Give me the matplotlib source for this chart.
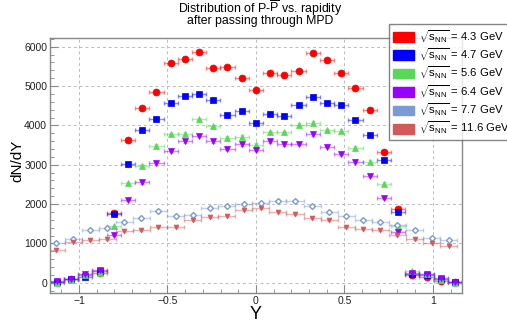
import matplotlib
matplotlib.use("Agg")
import matplotlib.pyplot as plt
import matplotlib.patches as mpatches
from matplotlib.ticker import MultipleLocator, FuncFormatter
import numpy as np

plt.rcParams['font.family'] = ['Liberation Sans', 'DejaVu Sans']
plt.rcParams['mathtext.fontset'] = 'custom'
plt.rcParams['mathtext.rm'] = 'Liberation Sans'
plt.rcParams['mathtext.it'] = 'Liberation Sans:italic'

# bin centres (two different binnings)
y_a = np.linspace(-1.125, 1.125, 29)
y_b = np.linspace(-1.13, 1.0895, 24)

n_43 = [20, 90, 190, 250, 1770, 3620, 4430, 4850, 5590, 5690, 5860, 5470, 5490, 5200, 4900,
        5320, 5290, 5390, 5830, 5660, 5340, 4940, 4400, 3320, 1870, 205, 140, 50, 10]
n_47 = [30, 100, 150, 310, 1750, 3010, 3880, 4160, 4580, 4740, 4810, 4640, 4260, 4370, 4070,
        4300, 4240, 4530, 4720, 4570, 4510, 4130, 3755, 3120, 1790, 230, 200, 100, 20]
n_56 = [0, 65, 200, 240, 1430, 2540, 2975, 3480, 3770, 3790, 4160, 3980, 3690, 3710, 3510,
        3820, 3820, 4010, 4070, 3880, 3860, 3430, 3080, 2520, 1440, 290, 210, 80, 0]
n_64 = [40, 100, 225, 320, 1205, 2100, 2550, 3036, 3350, 3595, 3730, 3595, 3410, 3520, 3385,
        3600, 3520, 3535, 3770, 3450, 3270, 3080, 2710, 2160, 1300, 240, 230, 110, 30]
n_77 = [1017, 1119, 1340, 1391, 1551, 1645, 1823, 1704, 1729, 1907, 1942, 2001, 2025,
        2069, 2085, 1950, 1798, 1696, 1594, 1543, 1467, 1332, 1144, 1078]
n_116 = [831, 1043, 1086, 1111, 1314, 1340, 1408, 1424, 1586, 1662, 1696, 1856, 1890,
         1790, 1747, 1637, 1586, 1424, 1365, 1340, 1213, 1111, 1017, 941]

energies = ["4.3", "4.7", "5.6", "6.4", "7.7", "11.6"]
cols = ["#ff0000", "#0000ff", "#57d957", "#9900ff", "#7b9ad6", "#d25a5a"]

fig = plt.figure(figsize=(5.07, 3.24), dpi=100)
ax = fig.add_axes([0.0986, 0.0947, 0.8124, 0.7889])

series = [
    (y_a, n_43, 'o', 5, True),
    (y_a, n_47, 's', 4.5, True),
    (y_a, n_56, '^', 4, True),
    (y_a, n_64, 'v', 4, True),
    (y_b, n_77, 'D', 3, False),
    (y_b, n_116, 'v', 3.5, True),
]
for (x, n, m, ms, filled), c in zip(series, cols):
    xw = (x[1] - x[0]) / 2
    yerr = np.sqrt(np.array(n, dtype=float)) * 0.6
    ax.errorbar(x, n, xerr=xw, yerr=yerr, fmt='none', ecolor=c, alpha=0.45,
                elinewidth=1, capsize=1.5, capthick=1)
    ax.plot(x, n, ls='none', marker=m, ms=ms, color=c,
            mfc=c if filled else 'white', mew=1 if not filled else 0.5)

ax.set_xlim(-1.164, 1.164)
ax.set_ylim(-270, 6229)
ax.xaxis.set_major_locator(MultipleLocator(0.5))
ax.xaxis.set_minor_locator(MultipleLocator(0.1))
ax.yaxis.set_major_locator(MultipleLocator(1000))
ax.yaxis.set_minor_locator(MultipleLocator(200))
ax.xaxis.set_major_formatter(FuncFormatter(lambda v, p: ('%g' % v).replace('-', '\u2212')))
ax.tick_params(which='both', direction='in', colors='#888888', labelcolor='#222222',
               labelsize=7.5, top=False, right=False)
ax.tick_params(which='major', length=6, pad=2)
ax.tick_params(which='minor', length=3)
ax.grid(True, which='major', ls=(0, (3, 3)), color='#bbbbbb', lw=0.7)
for s in ax.spines.values():
    s.set_color('#888888')
    s.set_linewidth(1)

ax.set_xlabel("Y", fontsize=13)
ax.xaxis.set_label_coords(0.5, -0.05)
ax.set_ylabel("dN/dY", fontsize=11)
ax.yaxis.set_label_coords(-0.063, 0.518)

fig.text(0.513, 0.961, r"Distribution of P-$\overline{\mathrm{P}}$ vs. rapidity",
         ha='center', va='baseline', fontsize=8.9)
fig.text(0.513, 0.927, "after passing through MPD", ha='center', va='baseline', fontsize=8.8)

handles = [mpatches.Patch(facecolor=c, edgecolor=c) for c in cols]
labels = [r"$\sqrt{\mathrm{s}_{\mathrm{NN}}}$ = " + e + " GeV" for e in energies]
leg = fig.legend(handles, labels, loc='upper left', bbox_to_anchor=(0.767, 0.926),
                 fontsize=8.1, frameon=True, fancybox=False, handlelength=1.9,
                 handleheight=0.95, handletextpad=0.45, labelspacing=0.15,
                 borderaxespad=0, borderpad=0.35)
leg.get_frame().set_edgecolor('#666666')
leg.get_frame().set_linewidth(1)

fig.savefig("out.png", dpi=100)
